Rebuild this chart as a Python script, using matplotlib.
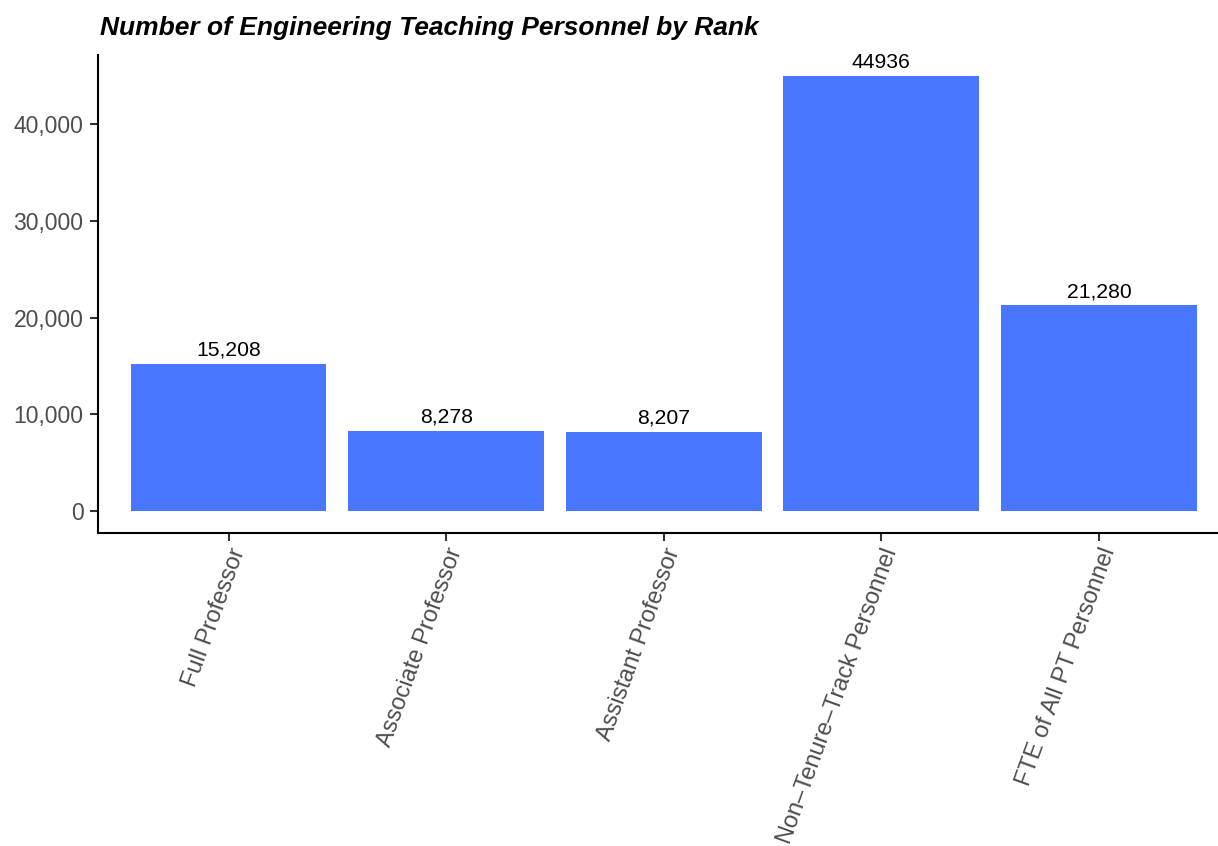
import matplotlib
matplotlib.use("Agg")
import matplotlib.pyplot as plt
from matplotlib.ticker import FuncFormatter

ranks = ["Full Professor", "Associate Professor", "Assistant Professor",
         "Non\u2013Tenure\u2013Track Personnel", "FTE of All PT Personnel"]
counts = [15208, 8278, 8207, 44936, 21280]
count_labels = ["15,208", "8,278", "8,207", "44936", "21,280"]

plt.rcParams['font.family'] = ['Liberation Sans', 'DejaVu Sans']

fig = plt.figure(figsize=(12.18, 8.46), dpi=100)
ax = fig.add_axes([98 / 1218, 1 - 533 / 846, (1229.5 - 98) / 1218, (533 - 54.5) / 846])

x = list(range(len(ranks)))
ax.bar(x, counts, width=0.9, color="#4876FF")
for xi, v, lab in zip(x, counts, count_labels):
    ax.annotate(lab, (xi, v), xytext=(0, 3), textcoords="offset points",
                ha="center", va="bottom", fontsize=15.2, color="black")

ax.set_xlim(-0.6, len(ranks) - 0.4)
ax.set_ylim(-0.05 * max(counts), 1.05 * max(counts))
ax.set_yticks([0, 10000, 20000, 30000, 40000])
ax.yaxis.set_major_formatter(FuncFormatter(lambda v, p: f"{int(v):,}"))
ax.set_xticks(x)
ax.set_xticklabels(ranks, rotation=70, ha="right", va="top", rotation_mode="anchor",
                   fontsize=17)

for s in ["top", "right"]:
    ax.spines[s].set_visible(False)
for s in ["left", "bottom"]:
    ax.spines[s].set_linewidth(1.5)
ax.tick_params(axis="both", length=5.5, width=1.5, colors="#333333",
               labelcolor="#4D4D4D")
ax.tick_params(axis="y", labelsize=16.5, pad=5)
ax.tick_params(axis="x", pad=3)

fig.text(100 / 1218, 1 - 16 / 846, "Number of Engineering Teaching Personnel by Rank",
         fontsize=19, fontweight="bold", fontstyle="italic", ha="left", va="top")

fig.savefig("out.png", dpi=100)
